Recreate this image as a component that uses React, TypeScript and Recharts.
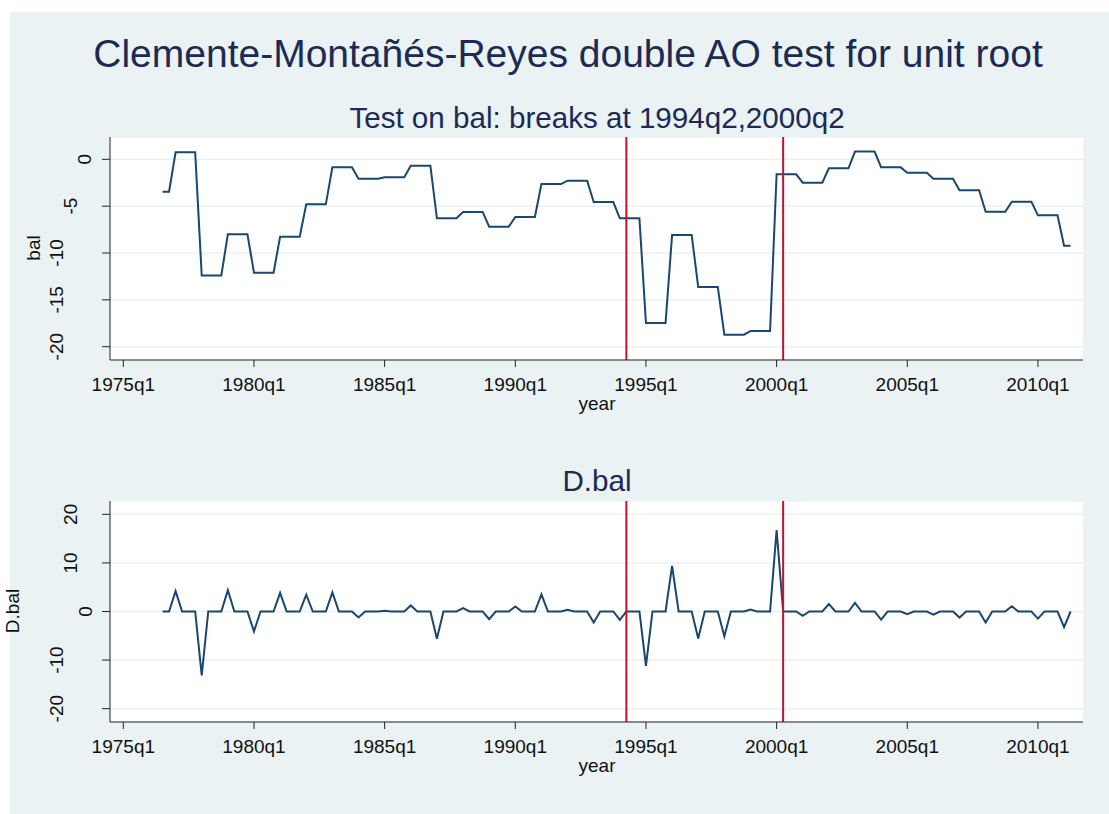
import { LineChart, Line, XAxis, YAxis, CartesianGrid, ReferenceLine } from "recharts"

// quarters are counted from 1975q1 = 0; the series starts at 1976q3
const FIRST_Q = 6

// bal, one value per quarter from 1976q3 to 2011q2
const bal = [
  -3.45, -3.45,
  0.75, 0.75, 0.75, 0.75,
  -12.4, -12.4, -12.4, -12.4,
  -8.0, -8.0, -8.0, -8.0,
  -12.1, -12.1, -12.1, -12.1,
  -8.26, -8.26, -8.26, -8.26,
  -4.81, -4.81, -4.81, -4.81,
  -0.86, -0.86, -0.86, -0.86,
  -2.07, -2.07, -2.07, -2.07,
  -1.92, -1.92, -1.92, -1.92,
  -0.68, -0.68, -0.68, -0.68,
  -6.3, -6.3, -6.3, -6.3,
  -5.62, -5.62, -5.62, -5.62,
  -7.19, -7.19, -7.19, -7.19,
  -6.16, -6.16, -6.16, -6.16,
  -2.64, -2.64, -2.64, -2.64,
  -2.28, -2.28, -2.28, -2.28,
  -4.56, -4.56, -4.56, -4.56,
  -6.3, -6.3, -6.3, -6.3,
  -17.47, -17.47, -17.47, -17.47,
  -8.08, -8.08, -8.08, -8.08,
  -13.63, -13.63, -13.63, -13.63,
  -18.72, -18.72, -18.72, -18.72,
  -18.33, -18.33, -18.33, -18.33,
  -1.6, -1.6, -1.6, -1.6,
  -2.49, -2.49, -2.49, -2.49,
  -0.96, -0.96, -0.96, -0.96,
  0.82, 0.82, 0.82, 0.82,
  -0.86, -0.86, -0.86, -0.86,
  -1.43, -1.43, -1.43, -1.43,
  -2.07, -2.07, -2.07, -2.07,
  -3.31, -3.31, -3.31, -3.31,
  -5.59, -5.59, -5.59, -5.59,
  -4.52, -4.52, -4.52, -4.52,
  -5.98, -5.98, -5.98, -5.98,
  -9.22, -9.22,
]

// D.bal, same quarters
const dBal = [
  0, 0,
  4.2, 0, 0, 0,
  -13.15, 0, 0, 0,
  4.4, 0, 0, 0,
  -4.1, 0, 0, 0,
  3.84, 0, 0, 0,
  3.45, 0, 0, 0,
  3.95, 0, 0, 0,
  -1.21, 0, 0, 0,
  0.15, 0, 0, 0,
  1.24, 0, 0, 0,
  -5.62, 0, 0, 0,
  0.68, 0, 0, 0,
  -1.57, 0, 0, 0,
  1.03, 0, 0, 0,
  3.52, 0, 0, 0,
  0.36, 0, 0, 0,
  -2.28, 0, 0, 0,
  -1.74, 0, 0, 0,
  -11.17, 0, 0, 0,
  9.39, 0, 0, 0,
  -5.55, 0, 0, 0,
  -5.09, 0, 0, 0,
  0.39, 0, 0, 0,
  16.73, 0, 0, 0,
  -0.89, 0, 0, 0,
  1.53, 0, 0, 0,
  1.78, 0, 0, 0,
  -1.68, 0, 0, 0,
  -0.57, 0, 0, 0,
  -0.64, 0, 0, 0,
  -1.24, 0, 0, 0,
  -2.28, 0, 0, 0,
  1.07, 0, 0, 0,
  -1.46, 0, 0, 0,
  -3.24, 0,
]

const breaks = [77, 101] // 1994q2, 2000q2
const xTicks = [0, 20, 40, 60, 80, 100, 120, 140]
const balTicks = [-20, -15, -10, -5, 0]
const dBalTicks = [-20, -10, 0, 10, 20]

const rows = bal.map((v, i) => ({ t: FIRST_Q + i, bal: v, dbal: dBal[i] }))

const W = 1109
const H = 814
const PLOT_LEFT = 110
const PLOT_RIGHT = 1083
const Y_AXIS_W = 60
const X_AXIS_H = 40
const FONT = '"Liberation Sans", Arial, sans-serif'
const BG = "#eaf2f3"
const NAVY = "#1a476f"
const RED = "#c8102e"
const TITLE = "#1c2a55"

const qLabel = (t: number) => `${1975 + Math.floor(t / 4)}q${(t % 4) + 1}`

function XTick({ x, payload, axisY }: any) {
  return (
    <text x={x} y={axisY + 31} textAnchor="middle" fontFamily={FONT} fontSize={19} fill="#111">
      {qLabel(payload.value)}
    </text>
  )
}

function YTick({ y, payload }: any) {
  const s = String(payload.value)
  const cx = 99 - 14 * s.length
  return (
    <text
      x={cx}
      y={y}
      transform={`rotate(-90 ${cx} ${y})`}
      textAnchor="middle"
      dominantBaseline="central"
      fontFamily={FONT}
      fontSize={19}
      fill="#111"
    >
      {s}
    </text>
  )
}

function Panel({ top, height, plotTop, plotBottom, dataKey, domain, ticks }: any) {
  const axisY = plotBottom - top
  return (
    <div style={{ position: "absolute", left: 0, top }}>
      <LineChart
        width={W}
        height={height}
        data={rows}
        margin={{
          top: plotTop - top,
          bottom: top + height - plotBottom - X_AXIS_H,
          left: PLOT_LEFT - Y_AXIS_W,
          right: W - PLOT_RIGHT,
        }}
      >
        <CartesianGrid vertical={false} stroke={BG} strokeWidth={1.5} fill="#ffffff" fillOpacity={1} />
        <XAxis
          type="number"
          dataKey="t"
          domain={[-2.04, 146.9]}
          ticks={xTicks}
          interval={0}
          allowDataOverflow
          height={X_AXIS_H}
          tickSize={7}
          axisLine={{ stroke: "#222" }}
          tickLine={{ stroke: "#222" }}
          tick={(p: any) => <XTick {...p} axisY={axisY} />}
        />
        <YAxis
          type="number"
          domain={domain}
          ticks={ticks}
          interval={0}
          allowDataOverflow
          width={Y_AXIS_W}
          tickSize={8}
          axisLine={{ stroke: "#222" }}
          tickLine={{ stroke: "#222" }}
          tick={(p: any) => <YTick {...p} />}
        />
        <Line
          type="linear"
          dataKey={dataKey}
          stroke={NAVY}
          strokeWidth={2}
          dot={false}
          isAnimationActive={false}
        />
        {breaks.map((b) => (
          <ReferenceLine key={b} x={b} stroke={RED} strokeWidth={2} />
        ))}
      </LineChart>
    </div>
  )
}

export default function App() {
  return (
    <div style={{ position: "absolute", left: 0, top: 0, width: W, height: H, background: "#fff" }}>
      <div style={{ position: "absolute", left: 10, top: 12, width: W - 10, height: H - 12, background: BG }} />
      <svg width={W} height={H} style={{ position: "absolute", left: 0, top: 0 }}>
        <g fontFamily={FONT} textAnchor="middle">
          <text x={568} y={67} fontSize={39} fill={TITLE}>
            Clemente-Montañés-Reyes double AO test for unit root
          </text>
          <text x={597} y={128} fontSize={29.6} fill={TITLE}>
            Test on bal: breaks at 1994q2,2000q2
          </text>
          <text x={597} y={410} fontSize={19} fill="#111">year</text>
          <text x={33} y={248} fontSize={19} fill="#111" dominantBaseline="central" transform="rotate(-90 33 248)">
            bal
          </text>
          <text x={597} y={491} fontSize={29.6} fill={TITLE}>D.bal</text>
          <text x={597} y={772} fontSize={19} fill="#111">year</text>
          <text x={12} y={611} fontSize={19} fill="#111" dominantBaseline="central" transform="rotate(-90 12 611)">
            D.bal
          </text>
        </g>
      </svg>
      <Panel top={0} height={440} plotTop={137} plotBottom={360} dataKey="bal" domain={[-21.42, 2.38]} ticks={balTicks} />
      <Panel top={440} height={374} plotTop={501} plotBottom={722} dataKey="dbal" domain={[-22.74, 22.74]} ticks={dBalTicks} />
    </div>
  )
}
